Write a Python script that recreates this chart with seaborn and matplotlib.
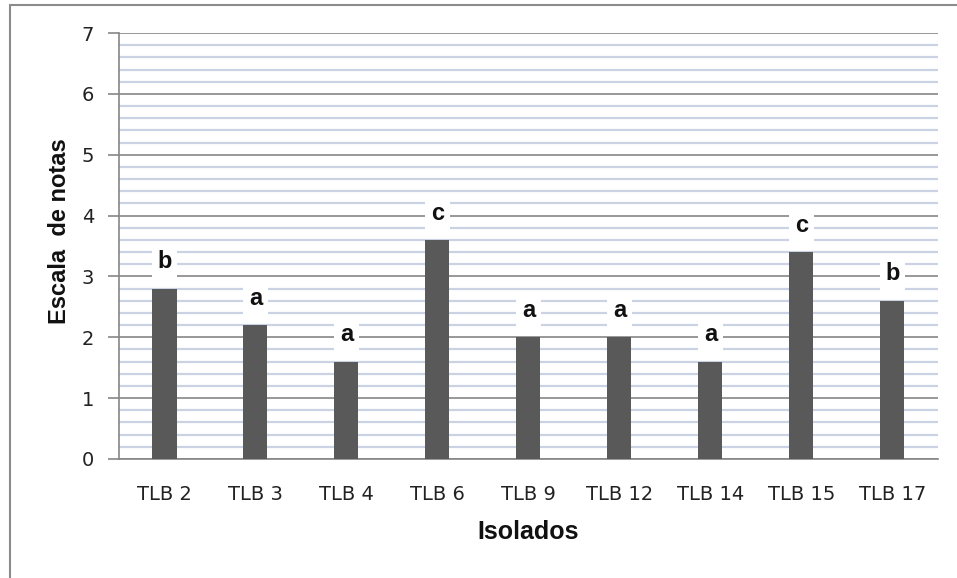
import matplotlib
matplotlib.use('Agg')
import matplotlib.pyplot as plt
from matplotlib.ticker import MultipleLocator
from matplotlib.lines import Line2D
import seaborn as sns
import pandas as pd

# data
isolados = ['TLB 2', 'TLB 3', 'TLB 4', 'TLB 6', 'TLB 9', 'TLB 12', 'TLB 14', 'TLB 15', 'TLB 17']
notas = [2.8, 2.2, 1.6, 3.6, 2.0, 2.0, 1.6, 3.4, 2.6]
letras = ['b', 'a', 'a', 'c', 'a', 'a', 'a', 'c', 'b']

df = pd.DataFrame({'Isolados': isolados, 'Escala': notas})

sns.set_style('white')
plt.rcParams['font.family'] = ['DejaVu Sans']

fig = plt.figure(figsize=(9.57, 5.78), dpi=100)
ax = fig.add_axes([0.1243, 0.2059, 0.8557, 0.737])

sns.barplot(data=df, x='Isolados', y='Escala', color='#595959', width=0.265,
            saturation=1, linewidth=0, ax=ax, zorder=3)

ax.set_ylim(0, 7)
ax.set_xlim(-0.5, len(isolados) - 0.5)
ax.yaxis.set_major_locator(MultipleLocator(1))
ax.yaxis.set_minor_locator(MultipleLocator(0.2))
ax.grid(which='minor', axis='y', color='#cbd2e4', linewidth=1.6, zorder=0)
ax.grid(which='major', axis='y', color='#868686', linewidth=1.2, zorder=1)
ax.set_axisbelow(True)

for s in ['top', 'right']:
    ax.spines[s].set_visible(False)
for s in ['left', 'bottom']:
    ax.spines[s].set_color('#868686')
    ax.spines[s].set_linewidth(1.2)

ax.tick_params(axis='y', which='major', left=True, direction='out', length=8,
               width=1.2, color='#868686', labelsize=14, pad=10,
               labelcolor='#222222')
ax.tick_params(axis='y', which='minor', length=0)
ax.tick_params(axis='x', length=0, labelsize=14, pad=19, labelcolor='#222222')

ax.set_xlabel('Isolados', fontsize=18, fontweight='bold',
              family='Liberation Sans', labelpad=11, color='#111111')
ax.set_ylabel('Escala  de notas', fontsize=17, fontweight='bold',
              family='Liberation Sans', color='#111111')
ax.yaxis.set_label_coords(-0.058, 0.535)

for i, (v, l) in enumerate(zip(notas, letras)):
    ax.text(i, v + 0.44, l, ha='center', va='center', fontsize=17,
            fontweight='bold', family='Liberation Sans', color='#111111',
            bbox=dict(facecolor='white', edgecolor='none', pad=4), zorder=4)

# outer chart frame
fig.add_artist(Line2D([0.0105, 1.0], [0.991, 0.991], color='#8c8c8c', linewidth=1.5))
fig.add_artist(Line2D([0.0105, 0.0105], [0.0, 0.991], color='#8c8c8c', linewidth=1.5))

fig.savefig('out.png', dpi=100)
